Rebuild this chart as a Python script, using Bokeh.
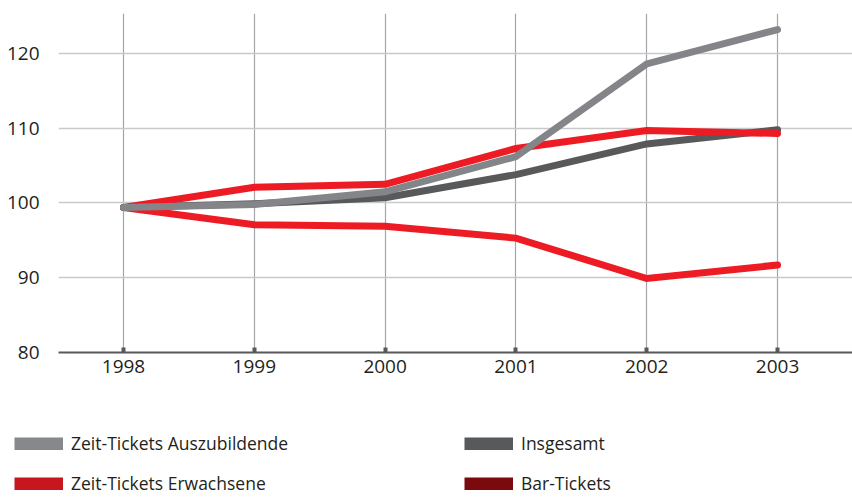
from bokeh.plotting import figure
from bokeh.models import Legend, LegendItem, FixedTicker, Range1d
from bokeh.embed import file_html
from bokeh.resources import INLINE

years = [1998, 1999, 2000, 2001, 2002, 2003]
auszubildende = [99.4, 99.8, 101.5, 106.2, 118.6, 123.2]
insgesamt = [99.4, 99.9, 100.7, 103.8, 107.9, 109.8]
erwachsene = [99.4, 102.1, 102.5, 107.3, 109.7, 109.3]
bar_tickets = [99.4, 97.1, 96.9, 95.3, 89.9, 91.7]
y_ticks = [80, 90, 100, 110, 120]

legend_labels = ["Zeit-Tickets Auszubildende", "Insgesamt",
                 "Zeit-Tickets Erwachsene", "Bar-Tickets"]
legend_colors = ["#87888C", "#58595B", "#C8161E", "#7A0A0E"]

FONT = "Open Sans"
TXT = "#231F20"

p = figure(width=852, height=400, output_backend="svg", toolbar_location=None,
           x_range=Range1d(1997.503, 2003.573), y_range=Range1d(80, 125.35),
           min_border_left=58, min_border_right=0, min_border_top=13,
           min_border_bottom=48)
p.outline_line_color = None
p.background_fill_color = "white"

# grids
p.xgrid.ticker = FixedTicker(ticks=years)
p.xgrid.grid_line_color = "#A3A5A8"
p.xgrid.grid_line_width = 1.2
p.ygrid.ticker = FixedTicker(ticks=y_ticks)
p.ygrid.grid_line_color = "#C8C9CB"
p.ygrid.grid_line_width = 1.5

# x axis
p.xaxis.ticker = FixedTicker(ticks=years)
p.xaxis.axis_line_color = "#58595B"
p.xaxis.axis_line_width = 2
p.xaxis.major_tick_in = 5
p.xaxis.major_tick_out = 0
p.xaxis.major_tick_line_width = 4
p.xaxis.major_tick_line_color = "#58595B"
p.xaxis.minor_tick_line_color = None
p.xaxis.major_label_text_font = FONT
p.xaxis.major_label_text_font_size = "19px"
p.xaxis.major_label_text_color = TXT
p.xaxis.major_label_standoff = 7

# y axis
p.yaxis.ticker = FixedTicker(ticks=y_ticks)
p.yaxis.axis_line_color = None
p.yaxis.major_tick_line_color = None
p.yaxis.minor_tick_line_color = None
p.yaxis.major_label_text_font = FONT
p.yaxis.major_label_text_font_size = "19px"
p.yaxis.major_label_text_color = TXT
p.yaxis.major_label_standoff = 13

LW = 7
p.line(years, insgesamt, line_color="#58595B", line_width=LW,
       line_join="miter", line_cap="round")
p.line(years, bar_tickets, line_color="#ED1C24", line_width=LW,
       line_join="miter", line_cap="round")
p.line(years, erwachsene, line_color="#ED1C24", line_width=LW,
       line_join="miter", line_cap="round")
p.line(years, auszubildende, line_color="#848589", line_width=LW,
       line_join="miter", line_cap="round")

# legend figure (separate root, frame = whole figure)
lg = figure(width=852, height=97, output_backend="svg", toolbar_location=None,
            x_range=Range1d(0, 1), y_range=Range1d(0, 1),
            x_axis_location=None, y_axis_location=None,
            min_border_left=0, min_border_right=0, min_border_top=0,
            min_border_bottom=0)
lg.grid.visible = False
lg.outline_line_color = None

items = []
for lab, col in zip(legend_labels, legend_colors):
    # single-point line: draws nothing in the plot, only the legend swatch
    r = lg.line(x=[0], y=[0], line_color=col, line_width=13, line_cap="butt")
    items.append(LegendItem(label=lab, renderers=[r]))

legend = Legend(items=items, orientation="horizontal", ncols=2,
                location=(14, 2), margin=0, padding=0, spacing=16,
                glyph_width=49, glyph_height=13, label_standoff=8,
                label_width=377, label_height=13,
                label_text_font=FONT, label_text_font_size="17.5px",
                label_text_color=TXT,
                border_line_color=None, background_fill_alpha=0)
lg.add_layout(legend, "center")

open("out.html", "w").write(file_html([p, lg], INLINE))
